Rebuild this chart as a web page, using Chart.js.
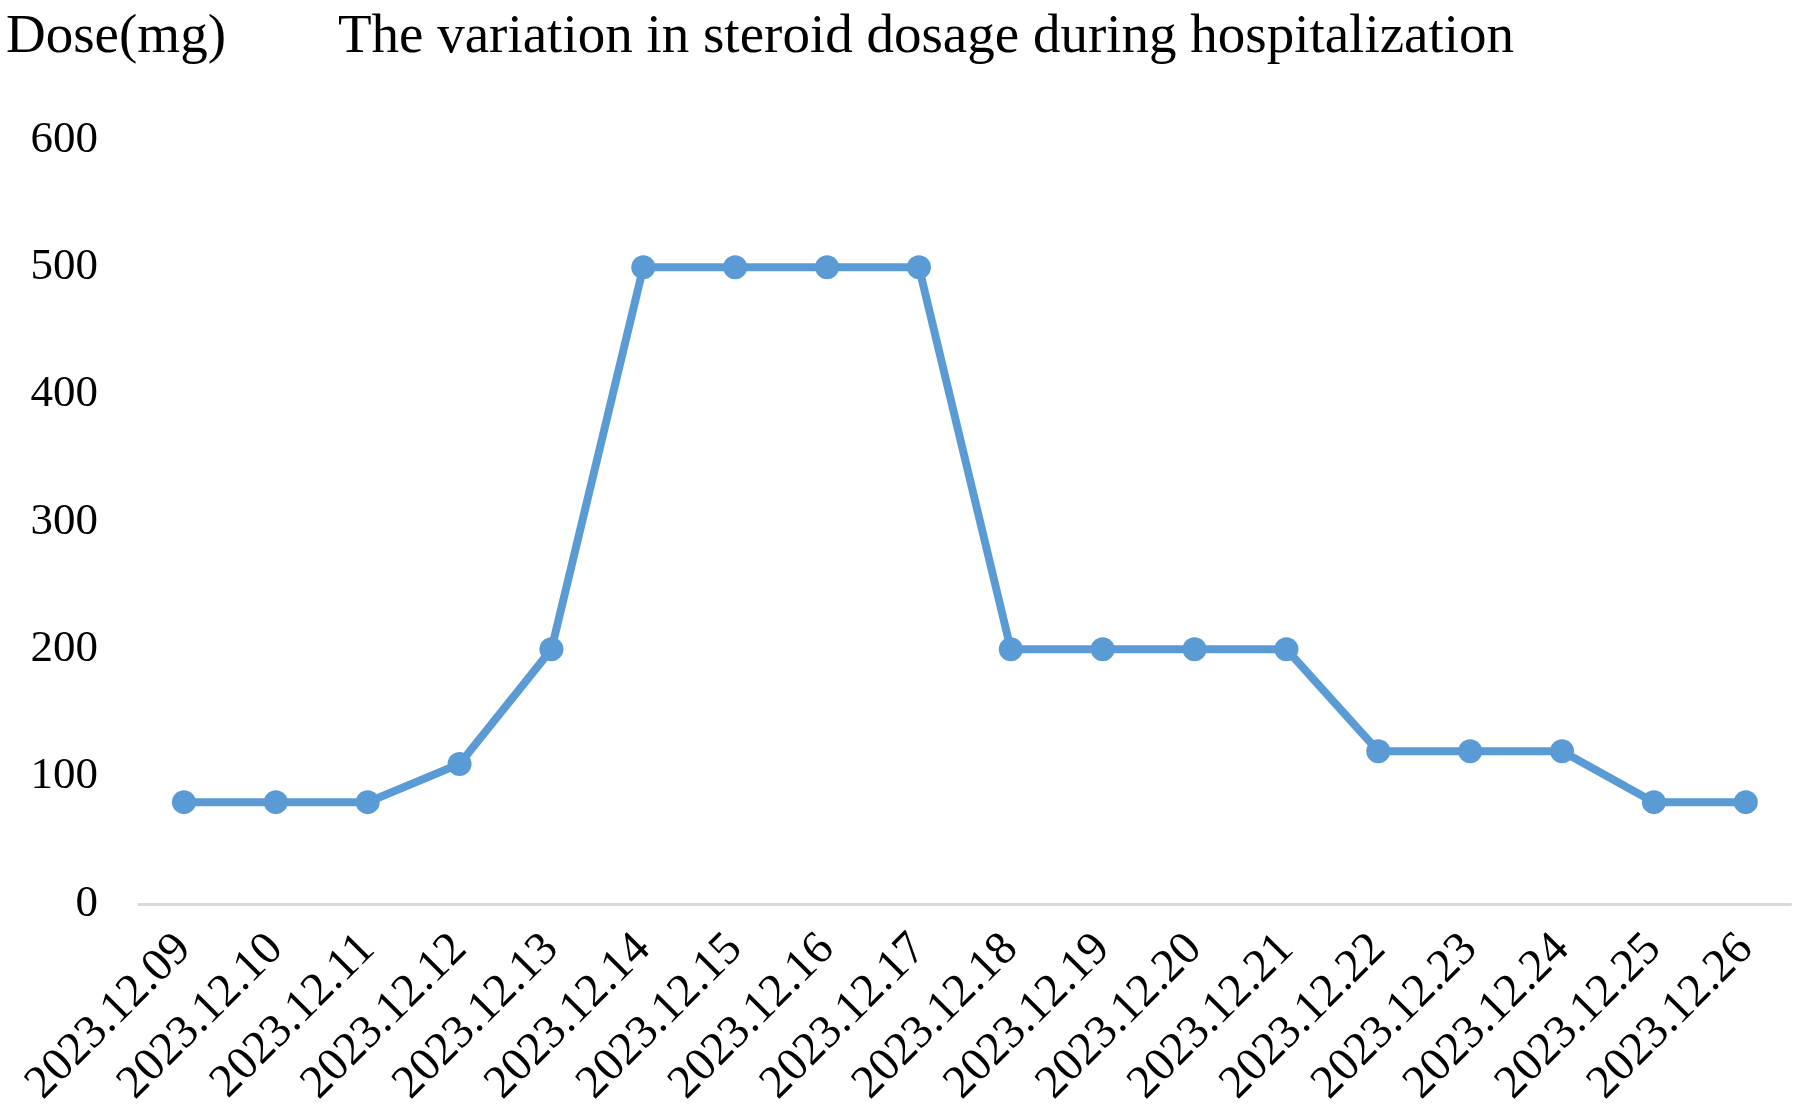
<!DOCTYPE html>
<html>
<head>
<meta charset="utf-8">
<script src="https://cdn.jsdelivr.net/npm/chart.js@4/dist/chart.umd.min.js"></script>
<style>
html,body{margin:0;padding:0;background:#fff;}
#wrap{width:1804px;height:1116px;position:relative;}
</style>
</head>
<body>
<div id="wrap"><canvas id="c" width="1804" height="1116"></canvas></div>
<script>
const categories = ["2023.12.09","2023.12.10","2023.12.11","2023.12.12","2023.12.13","2023.12.14","2023.12.15","2023.12.16","2023.12.17","2023.12.18","2023.12.19","2023.12.20","2023.12.21","2023.12.22","2023.12.23","2023.12.24","2023.12.25","2023.12.26"];
const doseValues = [80,80,80,110,200,500,500,500,500,200,200,200,200,120,120,120,80,80];
const yTicks = [0,100,200,300,400,500,600];
const titleText = "The variation in steroid dosage during hospitalization";
const yAxisLabel = "Dose(mg)";

const FONT = '"Liberation Serif", "Times New Roman", serif';

const textPlugin = {
  id: 'texts',
  afterDraw(chart) {
    const ctx = chart.ctx;
    ctx.save();
    ctx.fillStyle = '#000';
    ctx.font = '55px ' + FONT;
    ctx.textBaseline = 'alphabetic';
    ctx.textAlign = 'left';
    ctx.fillText(yAxisLabel, 6, 52);
    ctx.textAlign = 'center';
    ctx.fillText(titleText, 926, 52);
    ctx.restore();
  }
};

new Chart(document.getElementById('c'), {
  type: 'line',
  data: {
    labels: categories,
    datasets: [{
      data: doseValues,
      borderColor: '#5B9BD5',
      backgroundColor: '#5B9BD5',
      borderWidth: 8,
      pointRadius: 12,
      pointBackgroundColor: '#5B9BD5',
      pointBorderWidth: 0,
      tension: 0,
      fill: false
    }]
  },
  options: {
    responsive: false,
    animation: false,
    devicePixelRatio: 1,
    layout: { padding: { top: 140, right: 7, bottom: 0, left: 0 } },
    plugins: { legend: { display: false }, title: { display: false }, tooltip: { enabled: false } },
    scales: {
      x: {
        offset: true,
        grid: { display: false, drawTicks: false },
        border: { display: false },
        ticks: {
          color: '#000',
          font: { family: FONT, size: 47 },
          maxRotation: 45,
          minRotation: 45,
          autoSkip: false,
          padding: 18
        },
        afterFit(scale) { scale.height = 212; }
      },
      y: {
        min: 0,
        max: 600,
        afterBuildTicks(scale) { scale.ticks = yTicks.map(v => ({ value: v })); },
        grid: {
          drawTicks: false,
          lineWidth: 3,
          color: (c) => (c.tick && c.tick.value === 0) ? '#d9d9d9' : 'rgba(0,0,0,0)'
        },
        border: { display: false },
        ticks: {
          color: '#000',
          font: { family: FONT, size: 45 },
          padding: 40
        },
        afterFit(scale) { scale.width = 138; }
      }
    }
  },
  plugins: [textPlugin]
});
</script>
</body>
</html>
